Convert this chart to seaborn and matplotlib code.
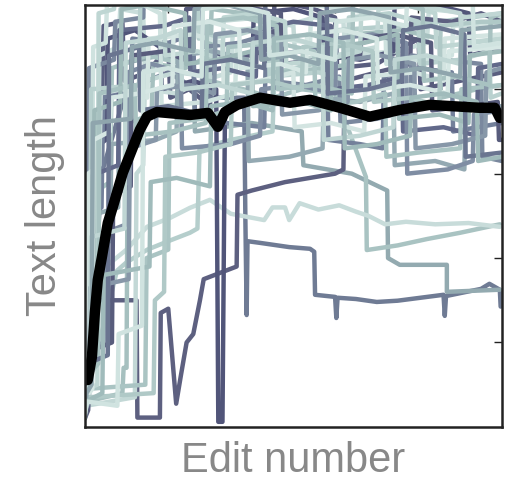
import pandas as pd
import seaborn as sns
import matplotlib.pyplot as plt

# --- data: edit number (0-100) vs text length (0-100, arbitrary units) ---
mean_edit = [0.7, 1.7, 2.4, 3.1, 4.1, 5.5, 6.7, 9.1, 13.2, 14.9, 17.3, 25.2, 29.5, 31.9, 33.6,
             36.5, 42, 49.2, 54, 61.2, 68.3, 75.5, 82.7, 94.7, 98.3, 99.5]
mean_length = [11.1, 16.6, 27.0, 34.8, 40.3, 48.3, 52.1, 60.2, 70.4, 73.5, 74.6, 73.9, 74.4, 71.1, 74.6,
               76.3, 78.0, 76.8, 77.5, 75.6, 73.5, 75.1, 76.3, 75.6, 75.6, 73.2]

r01_x = [0, 1, 1.5, 4, 4.5, 9, 9.5, 15, 20, 20.5, 25, 30, 30.5, 40, 45, 45.5, 55, 60, 60.5, 70, 80, 80.5, 90, 100]
r01_y = [6, 10, 70, 72, 95, 96, 82, 84, 90, 78, 80, 76, 88, 88, 90, 101, 99, 97, 85, 86, 92, 80, 82, 84]
r02_x = [0, 0.8, 1.2, 3, 3.5, 8, 8.5, 14, 14.5, 22, 28, 35, 35.5, 48, 55, 62, 62.5, 75, 82, 82.5, 92, 100]
r02_y = [4, 6, 40, 45, 88, 90, 99, 98, 80, 79, 82, 84, 94, 95, 97, 96, 88, 89, 91, 99, 98, 97]
r03_x = [0, 2, 4, 10, 20, 30, 38.2, 38.5, 38.8, 39.0, 42, 49, 54, 55, 55.2, 60, 60.3, 60.6, 65, 70, 75,
         86, 86.3, 86.6, 95, 97, 99.5, 99.7]
r03_y = [3, 25, 60, 80, 84, 78, 78, 48.6, 26.5, 44, 43.6, 42.6, 42.2, 41.5, 31.3, 30.8, 25.8, 30.6, 30.3,
         29.6, 29.9, 31.3, 26.3, 31, 32.7, 33.9, 32.5, 28.5]
r04_x = [0, 0.6, 1.2, 8, 8.4, 18, 26, 26.4, 40, 52, 52.4, 64, 72.5, 72.7, 75.5, 86.8, 86.8, 99.5]
r04_y = [5, 12, 50, 52, 86, 88, 86, 70, 72, 70, 62, 60, 56, 40, 38.4, 38.4, 32, 32.5]
r05_x = [0, 1, 1.5, 6, 6.5, 15, 24, 30, 38, 45, 52, 60, 67.4, 67.6, 75, 82, 90, 99.5]
r05_y = [3, 8, 55, 58, 85, 88, 86, 82, 80, 78, 80, 79, 59.2, 41.9, 43, 44.5, 46, 48]
r06_x = [0, 0.5, 1.9, 10, 14.9, 20.4, 25.2, 30, 35, 43, 45, 48, 49, 51.5, 56, 61, 65, 68, 72, 77, 84, 92, 99.5]
r06_y = [2, 5, 35.5, 42, 47.4, 49.5, 51.9, 53.8, 50.5, 49, 52, 52, 49, 53, 51.5, 52.5, 51, 50, 48, 48.6, 48, 48.3, 47.4]
r07_x = [0, 0.5, 1, 7.7, 10, 15, 20, 25.2, 27, 27.5, 35, 45, 45.5, 55, 60, 60.5, 75, 85, 100]
r07_y = [3, 6, 10, 37, 39, 42, 44, 46, 47, 66, 68, 70, 84, 86, 85, 94, 95, 96, 98]
r08_x = [0, 0.6, 1.2, 12.4, 12.6, 18.0, 18.2, 20.0, 21.9, 23.0, 24.4, 26.0, 27.6, 28.5, 36.4, 36.6, 40, 48,
         54, 60, 62, 62.3, 70, 78, 78.3, 88, 95, 100]
r08_y = [5, 20, 30, 30, 2.2, 2.2, 27, 28, 5.5, 12, 20, 22, 30, 35, 38, 55, 56, 58, 59, 60, 61, 82, 84, 86,
         97, 96, 98, 96]
r09_x = [0, 0.4, 0.9, 5, 5.5, 12, 18, 18.5, 26, 31.5, 32.0, 33.0, 33.6, 40, 40.5, 50, 57, 57.4, 66, 74,
         74.3, 84, 92, 92.4, 100]
r09_y = [4, 8, 65, 68, 92, 94, 90, 80, 82, 80, 1.2, 1.2, 75, 78, 98, 99, 97, 88, 87, 89, 101, 100, 98, 88, 90]
r10_x = [0, 0.3, 11.8, 12.0, 12.4, 14, 14.4, 22, 30, 30.4, 42, 50, 50.5, 60, 70, 70.4, 80, 90, 90.4, 100]
r10_y = [2, 5, 7, 7, 60, 62, 82, 84, 83, 96, 97, 95, 87, 88, 90, 99, 100, 98, 91, 92]
r11_x = [0, 0.5, 9, 9.3, 10, 10.3, 16, 16.4, 24, 30, 30.4, 38, 46, 46.4, 58, 64, 64.3, 76, 85, 85.4, 94, 100]
r11_y = [3, 6, 8, 14, 14, 72, 74, 86, 85, 88, 99, 98, 96, 84, 85, 86, 93, 94, 92, 78, 80, 81]
r12_x = [0, 0.6, 1.0, 4, 4.4, 11, 11.4, 20, 26, 26.4, 34, 43, 43.4, 52, 58, 58.4, 66, 71.4, 71.7, 80, 88, 88.3, 100]
r12_y = [8, 30, 50, 52, 78, 80, 92, 91, 93, 74, 72, 71, 88, 89, 90, 68, 67, 66, 83, 85, 84, 70, 72]
r13_x = [0, 0.5, 1.0, 7, 7.3, 14, 14.3, 23, 28, 28.3, 37, 44, 44.3, 53, 61, 61.3, 70, 78, 78.3, 86, 95, 95.3, 100]
r13_y = [10, 20, 85, 87, 96, 97, 106, 105, 103, 90, 91, 93, 82, 81, 83, 72, 73, 75, 88, 87, 86, 64, 63]
r14_x = [0, 1.5, 2.0, 5, 5.3, 12, 18, 18.4, 29, 36, 36.4, 47, 54, 54.3, 63, 72, 72.3, 81, 88, 88.3, 100]
r14_y = [15, 25, 90, 91, 100, 101, 98, 76, 77, 79, 90, 92, 91, 100, 99, 97, 86, 87, 88, 95, 96]
r15_x = [0, 0.8, 1.5, 6, 6.4, 17, 22, 22.3, 31, 39, 39.3, 49, 57, 57.3, 66, 74, 74.3, 84, 91, 91.3, 100]
r15_y = [5, 15, 42, 44, 67, 68, 70, 88, 89, 87, 63, 64, 66, 78, 77, 79, 62, 63, 61, 75, 76]
r16_x = [0, 0.4, 2.5, 2.8, 8, 8.3, 19, 25, 25.3, 33, 41, 41.3, 50, 59, 59.3, 68, 76, 76.3, 86, 94, 94.3, 100]
r16_y = [2, 12, 14, 60, 62, 94, 95, 97, 84, 85, 83, 94, 96, 95, 80, 81, 83, 70, 71, 69, 85, 86]
r17_x = [0, 0.3, 1.2, 1.5, 13, 13.3, 21, 27, 27.3, 37, 44, 44.3, 56, 63, 63.3, 73, 80, 80.3, 90, 97, 97.3, 100]
r17_y = [3, 10, 12, 80, 81, 100, 102, 100, 92, 93, 95, 83, 84, 82, 97, 98, 96, 86, 87, 89, 78, 79]
r18_x = [0, 0.6, 4.5, 4.8, 10, 10.3, 16, 23, 23.3, 35, 42, 42.3, 51, 60, 60.3, 69, 77, 77.3, 87, 93, 93.3, 100]
r18_y = [6, 18, 20, 46, 48, 84, 86, 84, 66, 67, 69, 80, 81, 79, 92, 93, 91, 60, 61, 63, 74, 75]
r19_x = [0, 0.4, 0.8, 3.5, 3.8, 9, 15, 15.3, 26, 33, 33.3, 42, 50, 50.3, 59, 67, 67.3, 79, 86, 86.3, 100]
r19_y = [4, 8, 60, 62, 79, 80, 78, 92, 93, 91, 81, 82, 84, 71, 72, 70, 83, 84, 82, 92, 93]
r20_x = [0, 0.8, 1.3, 6.5, 6.8, 11, 11.3, 19, 24, 24.3, 36, 47, 47.3, 57, 66, 66.3, 74, 83, 83.3, 92, 99, 99.3, 100]
r20_y = [2, 4, 18, 20, 55, 57, 88, 89, 87, 99, 100, 98, 86, 87, 88, 92, 93, 91, 75, 76, 77, 68, 68]
r21_x = [0, 0.5, 14.5, 14.8, 20, 20.3, 28, 34, 34.3, 46, 55, 55.3, 65, 72, 72.3, 80, 90, 90.3, 100]
r21_y = [3, 9, 10, 40, 42, 72, 73, 75, 90, 91, 89, 76, 77, 79, 64, 65, 66, 80, 81]
r22_x = [0, 0.4, 3, 3.3, 7, 7.3, 12, 19, 19.3, 27, 33, 33.3, 41, 48, 48.3, 58, 66, 66.3, 77, 84, 84.3, 93, 100]
r22_y = [5, 9, 10, 98, 99, 104, 103, 101, 88, 89, 87, 97, 98, 96, 86, 87, 89, 99, 100, 98, 90, 91, 92]
r23_x = [0, 1, 1.3, 10.5, 10.8, 17, 17.3, 25, 31, 31.3, 39, 47, 47.3, 56, 63, 63.3, 71, 79, 79.3, 88, 96, 96.3, 100]
r23_y = [4, 6, 33, 35, 66, 68, 80, 81, 79, 93, 94, 92, 74, 75, 77, 87, 88, 86, 66, 67, 69, 84, 85]
r24_x = [0, 0.7, 2, 2.3, 8.5, 8.8, 15, 24, 24.3, 32, 40, 40.3, 52, 59, 59.3, 67, 75, 75.3, 85, 92, 92.3, 100]
r24_y = [6, 10, 22, 75, 77, 99, 100, 98, 86, 87, 89, 76, 77, 75, 90, 91, 93, 73, 74, 72, 88, 89]
r25_x = [0, 0.5, 3.2, 3.5, 12, 12.3, 21, 29, 29.3, 38, 46, 46.3, 55, 64, 64.3, 72, 81, 81.3, 89, 97, 97.3, 100]
r25_y = [3, 12, 15, 79, 81, 69, 70, 72, 96, 97, 95, 80, 81, 79, 100, 101, 99, 82, 83, 81, 97, 98]
r26_x = [0, 0.3, 1.8, 2.1, 6, 6.3, 13, 21, 21.3, 30, 37, 37.3, 47, 53, 53.3, 62, 70, 70.3, 78, 87, 87.3, 100]
r26_y = [3, 7, 9, 68, 70, 78, 79, 81, 95, 96, 94, 85, 86, 84, 93, 94, 92, 80, 81, 79, 89, 90]
r27_x = [0, 0.5, 16.5, 16.8, 19, 19.3, 27, 35, 35.3, 44, 52, 52.3, 61, 69, 69.3, 78, 85, 85.3, 95, 100]
r27_y = [4, 7, 8, 30, 32, 64, 65, 67, 81, 82, 80, 90, 91, 89, 77, 78, 76, 95, 96, 96]
r28_x = [0, 0.6, 5.5, 5.8, 13, 13.3, 20, 28, 28.3, 35, 43, 43.3, 51, 58, 58.3, 68, 76, 76.3, 83, 91, 91.3, 100]
r28_y = [5, 15, 17, 88, 90, 75, 76, 74, 86, 87, 85, 101, 102, 100, 79, 80, 82, 94, 95, 93, 64, 65]
r29_x = [0, 1.2, 1.5, 9.5, 9.8, 17, 23, 23.3, 32, 40, 40.3, 50, 57, 57.3, 66, 74, 74.3, 82, 90, 90.3, 100]
r29_y = [8, 10, 45, 47, 91, 92, 94, 80, 81, 79, 91, 92, 90, 68, 69, 71, 87, 88, 86, 97, 98]
r30_x = [0, 0.4, 1.6, 1.9, 11, 11.3, 17, 26, 26.3, 34, 42, 42.3, 49, 56, 56.3, 64, 73, 73.3, 81, 90, 90.3, 100]
r30_y = [2, 8, 10, 72, 73, 90, 91, 89, 99, 100, 98, 87, 88, 86, 98, 99, 97, 84, 85, 83, 94, 95]
r31_x = [0, 0.3, 4.2, 4.5, 15.5, 15.8, 22, 30, 30.3, 38, 45, 45.3, 54, 62, 62.3, 70, 78, 78.3, 86, 94, 94.3, 100]
r31_y = [3, 6, 8, 36, 38, 58, 59, 57, 76, 77, 75, 92, 93, 91, 66, 67, 69, 78, 79, 77, 63, 64]
r32_x = [0, 0.6, 7.8, 8.1, 13.7, 14.0, 20, 28, 28.3, 36, 44, 44.3, 52, 60, 60.3, 69, 77, 77.3, 86, 93, 93.3, 100]
r32_y = [3, 6, 5, 22, 24, 84, 85, 83, 99, 100, 98, 88, 89, 87, 96, 97, 95, 102, 103, 101, 90, 91]

runs = {
    "r01": (r01_x, r01_y), "r02": (r02_x, r02_y), "r03": (r03_x, r03_y), "r04": (r04_x, r04_y),
    "r05": (r05_x, r05_y), "r06": (r06_x, r06_y), "r07": (r07_x, r07_y), "r08": (r08_x, r08_y),
    "r09": (r09_x, r09_y), "r10": (r10_x, r10_y), "r11": (r11_x, r11_y), "r12": (r12_x, r12_y),
    "r13": (r13_x, r13_y), "r14": (r14_x, r14_y), "r15": (r15_x, r15_y), "r16": (r16_x, r16_y),
    "r17": (r17_x, r17_y), "r18": (r18_x, r18_y), "r19": (r19_x, r19_y), "r20": (r20_x, r20_y),
    "r21": (r21_x, r21_y), "r22": (r22_x, r22_y), "r23": (r23_x, r23_y), "r24": (r24_x, r24_y),
    "r25": (r25_x, r25_y), "r26": (r26_x, r26_y), "r27": (r27_x, r27_y), "r28": (r28_x, r28_y),
    "r29": (r29_x, r29_y), "r30": (r30_x, r30_y), "r31": (r31_x, r31_y), "r32": (r32_x, r32_y),
}

run_colors = {
    "r01": "#5a5e7f", "r02": "#c9dddb", "r03": "#6f7b94", "r04": "#93aab0", "r05": "#a9c3c2",
    "r06": "#c8dcda", "r07": "#b5cecc", "r08": "#5d6080", "r09": "#515579", "r10": "#c3d8d6",
    "r11": "#a6c0bf", "r12": "#73809a", "r13": "#7a889e", "r14": "#cfe2df", "r15": "#94a9b2",
    "r16": "#62698a", "r17": "#b9d1cf", "r18": "#7f8da3", "r19": "#d3e4e1", "r20": "#585c7c",
    "r21": "#aac4c3", "r22": "#bfd6d3", "r23": "#8797a8", "r24": "#9fbab9", "r25": "#a8c2c1",
    "r26": "#d6e7e4", "r27": "#b0c9c7", "r28": "#6a7590", "r29": "#c0d6d4", "r30": "#8fa5ad",
    "r31": "#a0bbbb", "r32": "#d0e3e0",
}

rows = []
for name, (xs, ys) in runs.items():
    for i, (x, y) in enumerate(zip(xs, ys)):
        rows.append({"run": name, "order": i, "edit": x, "length": y})
df = pd.DataFrame(rows)

# --- style ---
sns.set_style("white")
plt.rcParams["font.family"] = ["Liberation Sans", "DejaVu Sans"]

fig = plt.figure(figsize=(5.08, 4.84), dpi=100)
ax = fig.add_axes([0.167, 0.118, 0.821, 0.872])

sns.lineplot(data=df, x="edit", y="length", hue="run", palette=run_colors, units="run",
             estimator=None, sort=False, legend=False, linewidth=3.2, ax=ax,
             solid_joinstyle="round", solid_capstyle="round")
sns.lineplot(x=mean_edit, y=mean_length, color="black", linewidth=7.5, sort=False,
             estimator=None, ax=ax, solid_joinstyle="round", solid_capstyle="round")

ax.set_xlim(0, 100)
ax.set_ylim(0, 100)
ax.set_xticks([20, 40, 60, 80])
ax.set_yticks([20, 40, 60, 80])
ax.tick_params(direction="in", length=6, width=1, top=True, right=True,
               labelbottom=False, labelleft=False, color="#222222")
for s in ax.spines.values():
    s.set_color("#222222")
    s.set_linewidth(1.8)

ax.set_xlabel("Edit number", fontsize=30, color="#888888", labelpad=10)
ax.set_ylabel("Text length", fontsize=30, color="#888888", labelpad=14)

plt.savefig("out.png", dpi=100)
plt.close()
